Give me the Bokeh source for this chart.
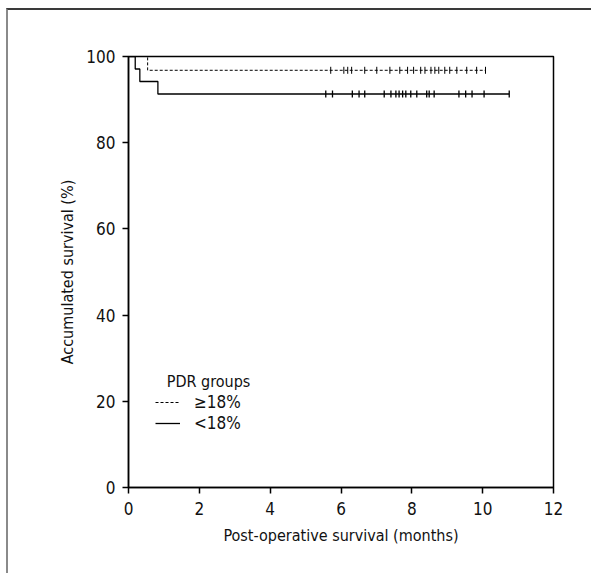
import math
from bokeh.plotting import figure
from bokeh.models import Range1d, Legend, LegendItem, Label, FixedTicker
from bokeh.embed import file_html
from bokeh.resources import INLINE

# ---- data ----
x_ticks = [0, 2, 4, 6, 8, 10, 12]
y_ticks = [0, 20, 40, 60, 80, 100]

# Kaplan-Meier step curves (time in months, survival in %)
ge18_time = [0, 0.54, 10.08]
ge18_surv = [100, 96.8, 96.8]
lt18_time = [0, 0.19, 0.32, 0.83, 10.75]
lt18_surv = [100, 97.1, 94.2, 91.3, 91.3]

# censored observations
ge18_cens = [5.71, 6.08, 6.19, 6.30, 6.67, 7.01, 7.38, 7.66, 7.88, 8.05, 8.25,
             8.37, 8.54, 8.65, 8.76, 8.93, 9.07, 9.27, 9.55, 9.83, 10.08]
lt18_cens = [5.57, 5.76, 6.32, 6.51, 6.67, 7.22, 7.41, 7.55, 7.64, 7.74, 7.83,
             7.97, 8.14, 8.42, 8.49, 8.63, 9.33, 9.52, 9.70, 10.04, 10.75]

FONT = "DejaVu Sans Condensed"

p = figure(width=585, height=565, output_backend="svg", toolbar_location=None,
           x_range=Range1d(0, 12), y_range=Range1d(0, 100),
           frame_width=425, frame_height=431,
           min_border_left=120, min_border_top=46, min_border_right=38,
           min_border_bottom=86)
p.styles = {"border-left": "2px solid #8a8a8a", "border-top": "2px solid #3a3a3a",
            "margin-left": "6px", "margin-top": "8px"}

p.xgrid.visible = False
p.ygrid.visible = False
p.outline_line_color = "black"
p.outline_line_width = 1.5
p.outline_line_alpha = 1.0

for ax, ticks in ((p.xaxis, x_ticks), (p.yaxis, y_ticks)):
    ax.ticker = FixedTicker(ticks=ticks)
    ax.minor_tick_line_color = None
    ax.major_tick_in = 0
    ax.major_tick_out = 6
    ax.major_tick_line_width = 1.5
    ax.axis_line_width = 1.5
    ax.axis_line_color = "black"
    ax.major_tick_line_color = "black"
    ax.major_label_text_font = FONT
    ax.major_label_text_font_size = "17px"
    ax.major_label_text_color = "#111111"
    ax.axis_label_text_font = FONT
    ax.axis_label_text_font_size = "16px"
    ax.axis_label_text_font_style = "normal"
    ax.axis_label_text_color = "#111111"

p.xaxis.axis_label = "Post-operative survival (months)"
p.yaxis.axis_label = "Accumulated survival (%)"
p.xaxis.major_label_standoff = 8
p.xaxis.axis_label_standoff = 8
p.yaxis.major_label_standoff = 7
p.yaxis.axis_label_standoff = 6

r_ge = p.step(ge18_time, ge18_surv, mode="after", line_color="black",
              line_width=1, line_dash="3 2")
r_lt = p.step(lt18_time, lt18_surv, mode="after", line_color="black",
              line_width=1.3)

p.scatter(ge18_cens, [ge18_surv[-1]] * len(ge18_cens), marker="dash",
          angle=math.pi / 2, size=7, line_color="black", line_width=1)
p.scatter(lt18_cens, [lt18_surv[-1]] * len(lt18_cens), marker="dash",
          angle=math.pi / 2, size=7, line_color="black", line_width=1.3)

title = Label(x=1.08, y=24.5, text="PDR groups", text_font=FONT,
              text_font_size="16px", text_baseline="middle", text_color="#111111")
p.add_layout(title)

legend = Legend(items=[LegendItem(label="≥18%", renderers=[r_ge]),
                       LegendItem(label="<18%", renderers=[r_lt])],
                location=(27, 54), orientation="vertical",
                background_fill_alpha=0, border_line_color=None,
                padding=0, margin=0, spacing=1,
                glyph_width=25, glyph_height=20, label_standoff=14,
                label_text_font=FONT, label_text_font_size="17px",
                label_text_color="#111111")
p.add_layout(legend)

open("out.html", "w").write(file_html(p, INLINE))
